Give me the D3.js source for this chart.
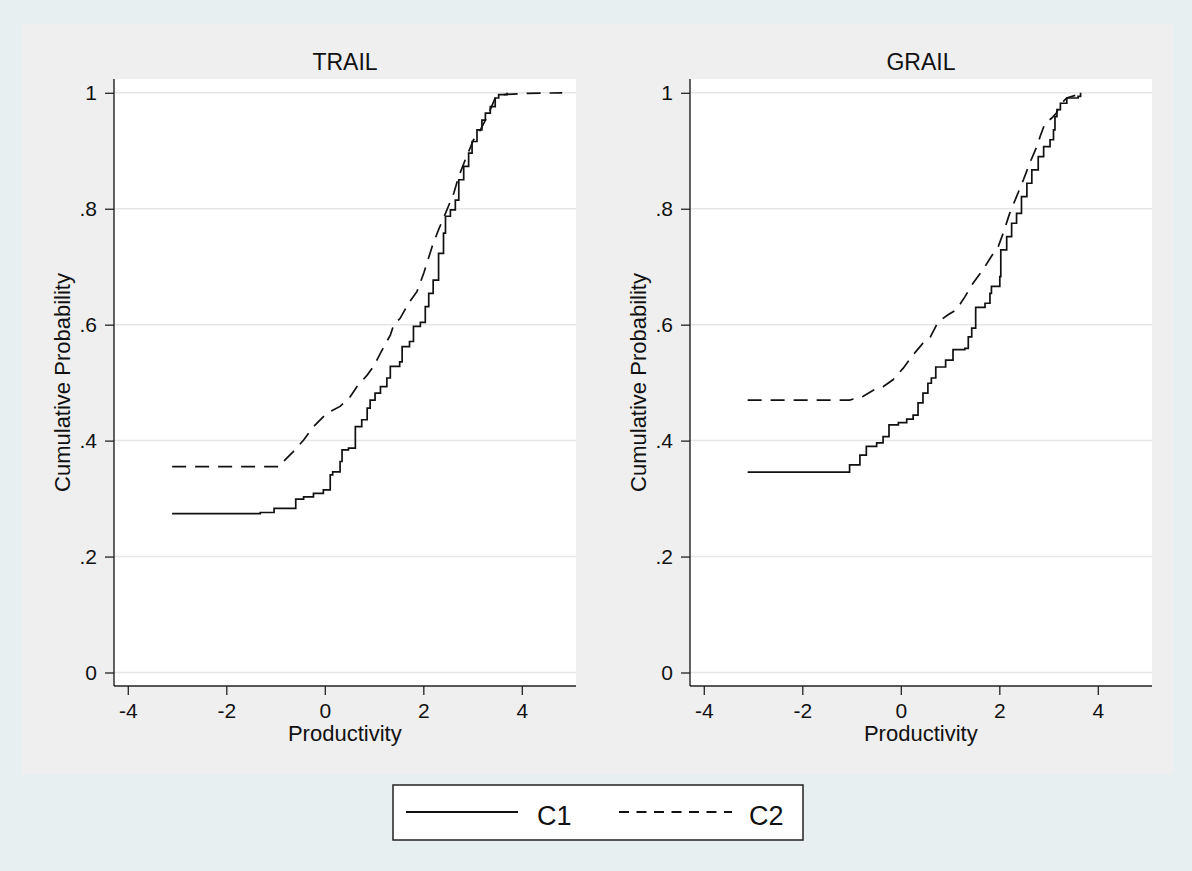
<!DOCTYPE html>
<html>
<head>
<meta charset="utf-8">
<script src="https://cdn.jsdelivr.net/npm/d3@7"></script>
<style>
  html, body { margin: 0; padding: 0; background: #e8eff1; }
  svg { display: block; font-family: "Liberation Sans", Arial, sans-serif; }
</style>
</head>
<body>
<svg id="chart" width="1192" height="871"></svg>
<script>
// values
const panelTitles = ["TRAIL", "GRAIL"];
const seriesNames = ["C1", "C2"];
const xTicks = [-4, -2, 0, 2, 4];
const yTicks = [0, 0.2, 0.4, 0.6, 0.8, 1];

const trailC1X = [-3.10, -1.31, -1.03, -0.59, -0.43, -0.23, -0.03, 0.11, 0.16, 0.31, 0.35, 0.48, 0.62, 0.75, 0.86, 0.92, 1.02, 1.13, 1.26, 1.33, 1.52, 1.57, 1.72, 1.80, 1.94, 2.04, 2.11, 2.20, 2.31, 2.41, 2.45, 2.55, 2.65, 2.72, 2.82, 2.92, 2.99, 3.09, 3.19, 3.26, 3.36, 3.46, 3.53, 3.70];
const trailC1P = [0.274, 0.276, 0.283, 0.299, 0.303, 0.309, 0.315, 0.341, 0.346, 0.364, 0.384, 0.387, 0.424, 0.436, 0.456, 0.470, 0.482, 0.493, 0.508, 0.528, 0.536, 0.562, 0.571, 0.597, 0.604, 0.631, 0.654, 0.677, 0.723, 0.758, 0.787, 0.798, 0.815, 0.850, 0.873, 0.896, 0.916, 0.936, 0.953, 0.965, 0.976, 0.991, 0.997, 1.0];

const trailC2X = [-3.10, -0.91, -0.84, -0.64, -0.43, -0.23, 0.04, 0.31, 0.52, 0.65, 0.86, 0.99, 1.13, 1.33, 1.40, 1.53, 1.70, 1.87, 2.01, 2.18, 2.31, 2.45, 2.62, 2.72, 2.85, 3.02, 3.16, 3.26, 3.36, 3.46, 3.63, 4.11, 4.82];
const trailC2P = [0.355, 0.355, 0.364, 0.381, 0.401, 0.424, 0.447, 0.459, 0.476, 0.493, 0.513, 0.528, 0.551, 0.582, 0.600, 0.611, 0.637, 0.657, 0.689, 0.735, 0.764, 0.792, 0.827, 0.856, 0.884, 0.919, 0.936, 0.953, 0.971, 0.991, 0.997, 0.999, 1.0];

const grailC1X = [-3.11, -1.12, -1.04, -0.83, -0.70, -0.49, -0.36, -0.24, -0.05, 0.12, 0.25, 0.35, 0.45, 0.55, 0.62, 0.71, 0.91, 1.06, 1.30, 1.37, 1.44, 1.52, 1.71, 1.81, 1.84, 2.01, 2.03, 2.15, 2.25, 2.35, 2.45, 2.56, 2.66, 2.79, 2.90, 3.03, 3.10, 3.13, 3.17, 3.24, 3.37, 3.60, 3.65];
const grailC1P = [0.3455, 0.3455, 0.358, 0.375, 0.390, 0.396, 0.407, 0.427, 0.431, 0.437, 0.444, 0.465, 0.482, 0.499, 0.508, 0.527, 0.539, 0.557, 0.559, 0.579, 0.594, 0.630, 0.637, 0.654, 0.666, 0.683, 0.729, 0.752, 0.775, 0.792, 0.821, 0.844, 0.867, 0.890, 0.907, 0.919, 0.936, 0.959, 0.971, 0.982, 0.991, 0.994, 1.0];

const grailC2X = [-3.11, -1.04, -0.77, -0.56, -0.36, -0.16, 0.05, 0.25, 0.45, 0.59, 0.76, 0.96, 1.13, 1.30, 1.47, 1.67, 1.84, 1.98, 2.08, 2.21, 2.35, 2.49, 2.62, 2.76, 2.83, 2.93, 3.06, 3.16, 3.23, 3.37, 3.60, 3.64];
const grailC2P = [0.470, 0.470, 0.476, 0.487, 0.493, 0.505, 0.525, 0.548, 0.568, 0.577, 0.605, 0.617, 0.626, 0.648, 0.672, 0.695, 0.718, 0.735, 0.758, 0.792, 0.821, 0.850, 0.879, 0.907, 0.925, 0.948, 0.956, 0.965, 0.979, 0.991, 0.997, 1.0];

const panels = [
  { title: panelTitles[0], left: 114, c1: [trailC1X, trailC1P], c2: [trailC2X, trailC2P] },
  { title: panelTitles[1], left: 690, c1: [grailC1X, grailC1P], c2: [grailC2X, grailC2P] },
];

const svg = d3.select("#chart");
const plotW = 462, plotTop = 79, plotBottom = 686;
const dashPlot = "14,9";

// backgrounds
svg.append("rect").attr("width", 1192).attr("height", 871).attr("fill", "#e8eff1");
svg.append("rect").attr("x", 22).attr("y", 24).attr("width", 1151).attr("height", 750).attr("fill", "#efefef");

const fmtY = (d) => (d === 0 ? "0" : d === 1 ? "1" : d3.format(".1f")(d).replace("0.", "."));
const fmtX = (d) => String(d);
const zip = (xs, ps) => xs.map((x, i) => [x, ps[i]]);

panels.forEach((p) => {
  const x = d3.scaleLinear().domain([-4.28, 5.10]).range([p.left, p.left + plotW]);
  const y = d3.scaleLinear().domain([-0.0233, 1.0238]).range([plotBottom, plotTop]);

  svg.append("rect")
    .attr("x", p.left).attr("y", plotTop)
    .attr("width", plotW).attr("height", plotBottom - plotTop)
    .attr("fill", "#ffffff");

  // grid
  svg.append("g")
    .selectAll("line")
    .data(yTicks)
    .join("line")
    .attr("x1", p.left).attr("x2", p.left + plotW)
    .attr("y1", (d) => y(d)).attr("y2", (d) => y(d))
    .attr("stroke", "#e6e6e6")
    .attr("stroke-width", 1.5);

  const stepLine = d3.line()
    .x((d) => x(d[0]))
    .y((d) => y(d[1]))
    .curve(d3.curveStepAfter);

  // dashed one reads smoother in the original, so no visible stairs
  const smoothLine = d3.line()
    .x((d) => x(d[0]))
    .y((d) => y(d[1]));

  svg.append("path")
    .datum(zip(p.c2[0], p.c2[1]))
    .attr("d", smoothLine)
    .attr("fill", "none")
    .attr("stroke", "#111")
    .attr("stroke-width", 1.7)
    .attr("stroke-dasharray", dashPlot);

  svg.append("path")
    .datum(zip(p.c1[0], p.c1[1]))
    .attr("d", stepLine)
    .attr("fill", "none")
    .attr("stroke", "#111")
    .attr("stroke-width", 1.7);

  const gx = svg.append("g")
    .attr("transform", "translate(0," + plotBottom + ")")
    .call(d3.axisBottom(x).tickValues(xTicks).tickSize(9).tickPadding(8).tickSizeOuter(0).tickFormat(fmtX));

  const gy = svg.append("g")
    .attr("transform", "translate(" + p.left + ",0)")
    .call(d3.axisLeft(y).tickValues(yTicks).tickSize(9).tickPadding(8).tickSizeOuter(0).tickFormat(fmtY));

  [gx, gy].forEach((g) => {
    g.select(".domain").attr("stroke", "#222").attr("stroke-width", 1.4);
    g.selectAll(".tick line").attr("stroke", "#222").attr("stroke-width", 1.3);
    g.selectAll(".tick text")
      .attr("fill", "#111")
      .style("font-size", "21px")
      .style("font-family", "'Liberation Sans', Arial, sans-serif");
  });
  gy.select(".domain").attr("d", "M0," + plotTop + "V" + plotBottom);
  gx.select(".domain").attr("d", "M" + p.left + ",0H" + (p.left + plotW));

  svg.append("text")
    .attr("x", p.left + plotW / 2).attr("y", 70)
    .attr("text-anchor", "middle")
    .style("font-size", "23px")
    .attr("fill", "#111")
    .text(p.title);

  svg.append("text")
    .attr("x", x(0) + 20).attr("y", 741)
    .attr("text-anchor", "middle")
    .style("font-size", "22px")
    .attr("fill", "#111")
    .text("Productivity");

  svg.append("text")
    .attr("transform", "translate(" + (p.left - 44) + "," + (plotTop + plotBottom) / 2 + ") rotate(-90)")
    .attr("text-anchor", "middle")
    .style("font-size", "22px")
    .attr("fill", "#111")
    .text("Cumulative Probability");
});

// legend
const legend = svg.append("g").attr("transform", "translate(393,785)");
legend.append("rect")
  .attr("width", 410).attr("height", 55)
  .attr("fill", "#ffffff")
  .attr("stroke", "#222")
  .attr("stroke-width", 1.5);

const legendItems = [
  { name: seriesNames[0], x1: 13, x2: 125, tx: 144, dash: null },
  { name: seriesNames[1], x1: 226, x2: 339, tx: 356, dash: "10,7.5" },
];
legendItems.forEach((it) => {
  legend.append("line")
    .attr("x1", it.x1).attr("x2", it.x2)
    .attr("y1", 27).attr("y2", 27)
    .attr("stroke", "#111")
    .attr("stroke-width", 1.8)
    .attr("stroke-dasharray", it.dash);
  legend.append("text")
    .attr("x", it.tx).attr("y", 40)
    .style("font-size", "27px")
    .attr("fill", "#111")
    .text(it.name);
});
</script>
</body>
</html>
